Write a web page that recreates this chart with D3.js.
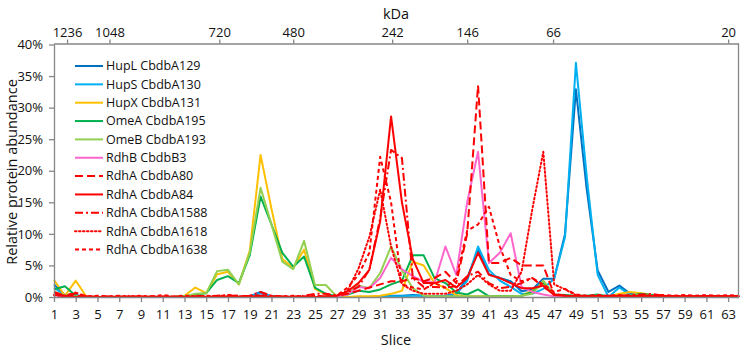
<!DOCTYPE html>
<html><head><meta charset="utf-8">
<script src="https://cdn.jsdelivr.net/npm/d3@7"></script>
<style>
body{margin:0;background:#fff;}
svg{display:block;font-family:"Open Sans","Noto Sans",sans-serif;}
</style></head>
<body><svg id="c" width="743" height="349"></svg>
<script>
const slices = [1,2,3,4,5,6,7,8,9,10,11,12,13,14,15,16,17,18,19,20,21,22,23,24,25,26,27,28,29,30,31,32,33,34,35,36,37,38,39,40,41,42,43,44,45,46,47,48,49,50,51,52,53,54,55,56,57,58,59,60,61,62,63,64];
const sliceTicks = [1,3,5,7,9,11,13,15,17,19,21,23,25,27,29,31,33,35,37,39,41,43,45,47,49,51,53,55,57,59,61,63];
const yTicks = [0,5,10,15,20,25,30,35,40];
const kdaLabels = ["1236","1048","720","480","242","146","66","20"];
const kdaSlices = [2.2,6.1,16.2,23.0,32.1,39.0,46.9,63.0];

const hupL = [2.0,0.3,0.3,0,0,0,0,0,0,0,0,0,0,0,0,0,0,0,0.1,0.8,0.1,0,0,0,0,0,0,0,0,0,0.1,0.2,0.2,0.3,0.2,0.1,0.2,0.5,3.0,7.5,3.6,3.0,2.5,0.9,1.2,2.9,2.9,10.0,32.9,17.0,4.2,0.8,1.8,0.5,0.2,0.1,0,0,0,0,0,0,0,0];
const hupS = [1.5,0.2,0.2,0,0,0,0,0,0,0,0,0,0,0,0,0,0,0,0.1,0.6,0.1,0,0,0,0,0,0,0,0,0,0.1,0.1,0.1,0.2,0.2,0.1,0.1,0.4,2.6,8.0,4.3,2.6,1.6,0.5,0.5,1.3,2.9,9.5,37.1,19.0,3.5,0,1.5,0.3,0.2,0.1,0,0,0,0,0,0,0,0];
const hupX = [2.7,0.2,2.6,0,0,0,0,0,0,0,0,0,0.2,1.5,0.6,3.6,4.0,2.0,7.3,22.5,14.0,6.0,4.6,7.5,1.3,0.4,0,0,0.1,0.1,0.2,0.5,1.0,5.6,5.0,2.2,1.4,0.3,0.1,0.1,0.1,0.1,0.1,0.2,1.0,2.0,0.3,0.1,0,0,0,0.1,0.5,0.8,0.6,0.3,0.2,0,0,0,0,0,0,0];
const omeA = [1.2,1.7,0.2,0,0,0,0,0,0,0,0,0,0.1,0.4,0.6,2.7,3.3,2.2,6.6,15.9,11.5,7.0,4.8,6.4,1.5,0.5,0.1,0.4,1.0,0.8,1.2,2.0,2.6,6.6,6.6,3.0,2.2,0.7,0.4,1.2,0.1,0.1,0.1,0.2,0.8,2.3,0.4,0.3,0.2,0.2,0.4,0.1,0.2,0.2,0.5,0.3,0,0,0,0,0,0,0,0];
const omeB = [0.8,0.3,0.1,0,0,0,0,0,0,0,0,0,0.1,0.5,0.6,4.1,4.3,2.0,7.0,17.3,11.5,5.6,4.4,8.9,1.9,1.9,0.1,0.5,1.8,1.4,3.8,8.0,4.2,1.4,0.2,0.1,0.1,0.1,0.1,0.1,0.1,0.1,0.1,0.2,0.5,2.6,0.3,0.1,0.1,0.1,0.2,0.1,0.1,0.2,0.3,0.2,0,0,0,0,0,0,0,0];
const rdhB = [0.3,0,0,0,0,0,0,0,0,0,0,0,0,0,0,0,0,0,0,0.1,0,0,0,0,0,0,0.1,0.4,1.6,1.4,3.0,6.2,4.4,3.3,2.4,2.3,8.0,3.5,15.0,23.0,5.4,7.0,10.1,1.6,0.8,0.4,0.1,0,0,0,0,0,0,0,0,0,0,0,0,0,0,0,0,0];
const a80 = [0.4,0.1,0.2,0,0.1,0,0.1,0,0.1,0,0.1,0,0.1,0,0.1,0,0.1,0,0.1,0.2,0.1,0,0.1,0,0.1,0.1,0.2,0.5,1.0,1.5,2.0,2.5,2.5,3.0,2.5,3.0,4.0,2.2,10.0,33.5,5.4,5.4,6.2,5.0,5.0,5.0,0.4,0.2,0.1,0.1,0.1,0.1,0.1,0.1,0.1,0.1,0.1,0.1,0.1,0.1,0.1,0.1,0.1,0.1];
const a84 = [0.6,0.1,0,0,0,0,0,0,0,0,0,0,0,0,0,0,0,0,0,0.1,0,0,0,0,0,0,0.2,0.9,2.2,4.3,12.0,28.6,15.0,6.0,2.2,2.2,2.7,1.5,3.0,7.0,3.5,3.0,2.2,1.4,1.4,1.8,0.3,0.2,0.1,0.1,0.1,0.1,0.1,0.1,0.1,0.1,0.1,0.1,0.1,0.1,0.1,0.1,0.1,0.1];
const a1588 = [0.8,0.2,0.6,0.1,0,0.1,0,0.2,0,0.1,0,0.1,0,0.2,0.1,0.2,0.3,0.1,0.2,0.8,0.2,0.1,0,0.2,0.5,0.5,0.3,0.8,1.6,4.3,12.5,23.3,22.0,3.0,1.6,1.6,1.5,1.7,3.3,4.0,2.2,1.4,1.6,2.2,3.0,1.6,0.5,0.2,0.1,0.1,0.1,0.2,0.2,0.3,0.4,0.5,0.2,0.1,0.1,0.1,0.1,0.1,0.1,0.1];
const a1618 = [0.3,0.1,0,0,0,0,0,0,0,0,0,0,0,0,0,0,0,0,0,0.2,0,0,0,0,0,0,0.2,1.0,4.5,9.5,17.0,8.0,2.0,1.0,0.5,0.5,0.5,1.0,2.0,3.5,2.0,1.0,1.0,4.0,14.0,23.0,2.0,1.2,0.3,0.1,0.1,0.1,0.1,0.1,0.1,0.1,0.1,0.1,0.1,0.1,0.1,0.1,0.1,0.1];
const a1638 = [0.5,0.2,0.7,0.1,0.2,0.1,0.2,0.1,0.2,0.1,0.3,0.1,0.2,0.1,0.2,0.1,0.3,0.2,0.1,0.3,0.1,0.1,0.2,0.1,0.2,0.1,0.2,1.5,3.5,7.0,22.2,15.0,2.0,1.5,1.2,2.2,1.5,3.0,10.5,11.5,14.3,8.0,3.5,2.5,3.0,2.0,0.8,1.3,0.4,0.2,0.3,0.2,0.3,0.2,0.3,0.2,0.3,0.2,0.3,0.2,0.3,0.2,0.3,0.2];

const seriesNames = ["HupL CbdbA129","HupS CbdbA130","HupX CbdbA131","OmeA CbdbA195","OmeB CbdbA193","RdhB CbdbB3","RdhA CbdbA80","RdhA CbdbA84","RdhA CbdbA1588","RdhA CbdbA1618","RdhA CbdbA1638"];
const seriesValues = [hupL,hupS,hupX,omeA,omeB,rdhB,a80,a84,a1588,a1618,a1638];
const seriesColors = ["#0070C0","#00B0F0","#FFC000","#00B050","#92D050","#FF66CC","#FF0000","#FF0000","#FF0000","#FF0000","#FF0000"];
const seriesDash = [null,null,null,null,null,null,"8,4",null,"8,3,2,3","1.5,2.5","4,3"];

const svg = d3.select("#c");
const L = 54, R = 739, T = 44.5, B = 297;
const x = d3.scaleLinear().domain([1,64]).range([L,R]);
const y = d3.scaleLinear().domain([0,40]).range([B,T]);
const axisColor = "#868686";

// lines
const line = d3.line().x((d,i)=>x(slices[i])).y(d=>y(d));
const g = svg.append("g");
seriesValues.forEach((vals,k)=>{
  g.append("path").datum(vals).attr("d",line)
    .attr("fill","none").attr("stroke",seriesColors[k])
    .attr("stroke-width",2).attr("stroke-linejoin","round")
    .attr("stroke-linecap", seriesDash[k]==="1.5,2.5" ? "round":"butt")
    .attr("stroke-dasharray",seriesDash[k]);
});

// axes
const yAxis = d3.axisLeft(y).tickValues(yTicks).tickFormat(d=>d+"%").tickSize(5).tickPadding(6);
const ya = svg.append("g").attr("transform",`translate(${L},0)`).call(yAxis);
const xAxis = d3.axisBottom(x).tickValues(sliceTicks).tickSize(5).tickPadding(8);
const xa = svg.append("g").attr("transform",`translate(0,${B})`).call(xAxis);
const xTop = d3.scaleLinear().domain([1,64]).range([L,R]);
const tAxis = d3.axisTop(xTop).tickValues(kdaSlices).tickFormat((d,i)=>kdaLabels[i]).tickSize(4).tickPadding(3);
const ta = svg.append("g").attr("transform",`translate(0,${T-1})`).call(tAxis);
[ya,xa,ta].forEach(a=>{
  a.select(".domain").attr("stroke",axisColor).attr("stroke-width",1.3);
  a.selectAll(".tick line").attr("stroke",axisColor).attr("stroke-width",1.3);
  a.selectAll(".tick text").attr("fill","#111").attr("font-size",13).attr("font-family","'Open Sans',sans-serif");
});
xa.select(".domain").attr("d",`M${L},0.5H${R}`);
ta.select(".domain").attr("d",`M${L},0.5H${R}`);
ya.select(".domain").attr("d",`M0.5,${B}V${T}`);
svg.append("line").attr("x1",R-0.5).attr("x2",R-0.5).attr("y1",T-1).attr("y2",B).attr("stroke",axisColor).attr("stroke-width",1.3);

// titles
svg.append("text").attr("x",396).attr("y",19).attr("text-anchor","middle").attr("font-size",14.5).attr("fill","#111").text("kDa");
svg.append("text").attr("x",396).attr("y",345).attr("text-anchor","middle").attr("font-size",14.5).attr("fill","#111").text("Slice");
svg.append("text").attr("transform","translate(17,172) rotate(-90)").attr("text-anchor","middle").attr("font-size",14.5).attr("fill","#111").text("Relative protein abundance");

// legend
const lg = svg.append("g");
seriesNames.forEach((n,k)=>{
  const yy = 66 + k*18.35;
  lg.append("line").attr("x1",75).attr("x2",103).attr("y1",yy).attr("y2",yy)
    .attr("stroke",seriesColors[k]).attr("stroke-width",2)
    .attr("stroke-linecap", seriesDash[k]==="1.5,2.5" ? "round":"butt")
    .attr("stroke-dasharray",seriesDash[k]);
  lg.append("text").attr("x",106).attr("y",yy).attr("dy","0.35em").attr("font-size",12.5).attr("fill","#111").text(n);
});
</script></body></html>
